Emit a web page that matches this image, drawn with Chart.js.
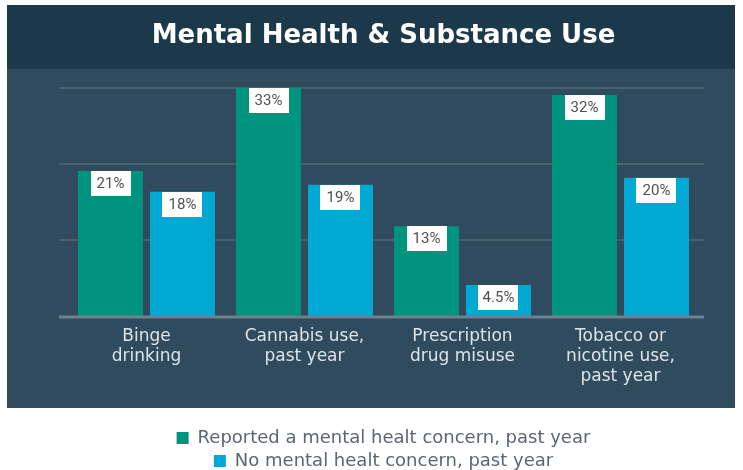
<!DOCTYPE html>
<html>
<head>
<meta charset="utf-8">
<script src="https://cdn.jsdelivr.net/npm/chart.js@4.4.1/dist/chart.umd.min.js"></script>
<style>
  html, body { margin: 0; padding: 0; background: #ffffff; }
  #wrap { width: 743px; height: 470px; }
</style>
</head>
<body>
<div id="wrap"><canvas id="c" width="743" height="470"></canvas></div>
<script>
const titleText = 'Mental Health & Substance Use';
const categories = [
  ['Binge', 'drinking'],
  ['Cannabis use,', 'past year'],
  ['Prescription', 'drug misuse'],
  ['Tobacco or', 'nicotine use,', 'past year']
];
const seriesNames = ['Reported a mental healt concern, past year', 'No mental healt concern, past year'];
const mentalConcern = [21, 33, 13, 32];
const noMentalConcern = [18, 19, 4.5, 20];
const gridValues = [11, 22, 33];

const GREEN = '#00937e';
const BLUE = '#00a8d4';

const panelPlugin = {
  id: 'panel',
  beforeDraw(chart) {
    const ctx = chart.ctx;
    const ca = chart.chartArea;
    ctx.save();
    ctx.fillStyle = '#ffffff';
    ctx.fillRect(0, 0, chart.width, chart.height);
    ctx.fillStyle = '#2f4b5d';
    ctx.fillRect(7, 5, 728, 403);
    ctx.fillStyle = '#1b394a';
    ctx.fillRect(7, 5, 728, 64);
    const y = chart.scales.y;
    ctx.strokeStyle = '#476171';
    ctx.lineWidth = 2;
    gridValues.forEach(v => {
      const py = Math.round(y.getPixelForValue(v));
      ctx.beginPath();
      ctx.moveTo(ca.left - 8.5, py);
      ctx.lineTo(ca.right + 4.5, py);
      ctx.stroke();
    });
    ctx.restore();
  },
  afterDatasetsDraw(chart) {
    const ctx = chart.ctx;
    const ca = chart.chartArea;
    const y = chart.scales.y;
    ctx.save();
    ctx.strokeStyle = '#6c8292';
    ctx.lineWidth = 3;
    const by = y.getPixelForValue(0) + 1;
    ctx.beginPath();
    ctx.moveTo(ca.left - 8.5, by);
    ctx.lineTo(ca.right + 4.5, by);
    ctx.stroke();
    ctx.font = '15px Roboto';
    ctx.textAlign = 'center';
    ctx.textBaseline = 'middle';
    chart.data.datasets.forEach((ds, di) => {
      const meta = chart.getDatasetMeta(di);
      meta.data.forEach((bar, i) => {
        const w = 40, h = 25;
        ctx.fillStyle = '#ffffff';
        ctx.fillRect(Math.round(bar.x - w / 2), Math.round(bar.y), w, h);
        ctx.fillStyle = '#505050';
        ctx.fillText(ds.data[i] + '%', bar.x, bar.y + h / 2 + 1);
      });
    });
    ctx.restore();
  }
};

new Chart(document.getElementById('c'), {
  type: 'bar',
  data: {
    labels: categories,
    datasets: [
      { label: seriesNames[0], data: mentalConcern, backgroundColor: GREEN, borderWidth: 0,
        categoryPercentage: 0.911, barPercentage: 0.903 },
      { label: seriesNames[1], data: noMentalConcern, backgroundColor: BLUE, borderWidth: 0,
        categoryPercentage: 0.911, barPercentage: 0.903 }
    ]
  },
  options: {
    responsive: false,
    animation: false,
    devicePixelRatio: 1,
    layout: { padding: { top: 5, left: 67.5, right: 43.5, bottom: -10 } },
    plugins: {
      title: {
        display: true,
        text: titleText,
        color: '#ffffff',
        font: { family: 'DejaVu Sans', size: 26, weight: 'bold', lineHeight: 1.2 },
        padding: { top: 16, bottom: 35.8 }
      },
      legend: {
        display: true,
        position: 'bottom',
        labels: {
          boxWidth: 12,
          boxHeight: 12,
          padding: 5,
          color: '#5b6670',
          font: { family: 'DejaVu Sans', size: 18 }
        }
      },
      tooltip: { enabled: false }
    },
    scales: {
      x: {
        grid: { display: false, drawTicks: false },
        border: { display: false },
        ticks: {
          color: '#dde4e9',
          font: { family: 'DejaVu Sans', size: 17, lineHeight: 1.2 },
          padding: 10,
          maxRotation: 0,
          autoSkip: false
        },
        afterFit(scale) { scale.height = 108; }
      },
      y: {
        display: false,
        min: 0,
        max: 33
      }
    }
  },
  plugins: [panelPlugin]
});
</script>
</body>
</html>
